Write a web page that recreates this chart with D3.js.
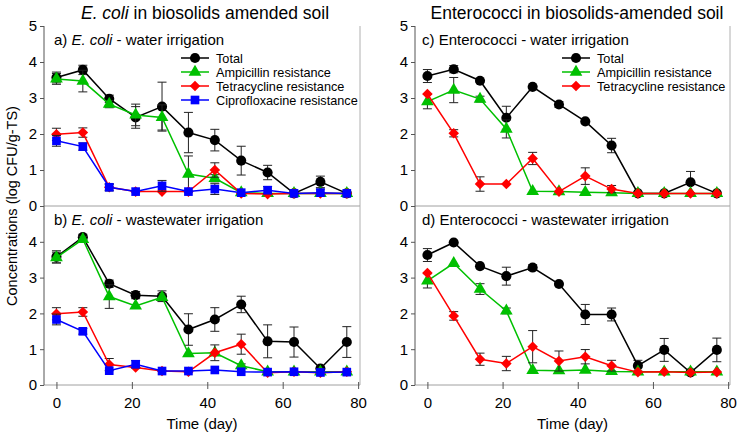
<!DOCTYPE html>
<html>
<head>
<meta charset="utf-8">
<script src="https://cdn.jsdelivr.net/npm/d3@7"></script>
<style>
  body { margin: 0; background: #fff; }
  svg { font-family: "Liberation Sans", Arial, sans-serif; }
</style>
</head>
<body>
<svg id="chart" width="738" height="437"></svg>
<script>
// sampling days
var days = [0, 7, 14, 21, 28, 35, 42, 49, 56, 63, 70, 77];
var yTicksTop = [0, 1, 2, 3, 4, 5];
var yTicksBottom = [0, 1, 2, 3, 4];
var xTicks = [0, 20, 40, 60, 80];

// a) E. coli - water irrigation
var ecWaterTotal = [3.57, 3.78, 2.98, 2.46, 2.76, 2.04, 1.83, 1.26, 0.93, 0.35, 0.67, 0.35];
var ecWaterTotalErr = [0.15, 0.13, 0.1, 0.3, 0.68, 0.56, 0.3, 0.4, 0.2, 0, 0.16, 0];
var ecWaterAmp = [3.53, 3.47, 2.83, 2.53, 2.46, 0.89, 0.77, 0.37, 0.35, 0.35, 0.35, 0.35];
var ecWaterAmpErr = [0.15, 0.3, 0.1, 0.3, 0.35, 0.5, 0.1, 0, 0, 0, 0, 0];
var ecWaterTet = [1.99, 2.04, 0.52, 0.4, 0.4, 0.4, 1.0, 0.35, 0.33, 0.35, 0.35, 0.35];
var ecWaterTetErr = [0.17, 0.13, 0.08, 0, 0, 0, 0.2, 0, 0, 0, 0, 0];
var ecWaterCip = [1.81, 1.65, 0.52, 0.4, 0.56, 0.4, 0.47, 0.37, 0.44, 0.35, 0.37, 0.35];
var ecWaterCipErr = [0.15, 0.1, 0.1, 0, 0.15, 0, 0.15, 0, 0.1, 0, 0.1, 0];

// b) E. coli - wastewater irrigation
var ecWasteTotal = [3.58, 4.13, 2.83, 2.51, 2.48, 1.55, 1.83, 2.25, 1.22, 1.2, 0.46, 1.2];
var ecWasteTotalErr = [0.17, 0.08, 0.1, 0.1, 0.15, 0.44, 0.33, 0.23, 0.46, 0.42, 0, 0.43];
var ecWasteAmp = [3.56, 4.07, 2.47, 2.21, 2.45, 0.88, 0.9, 0.54, 0.37, 0.37, 0.37, 0.37];
var ecWasteAmpErr = [0.15, 0.08, 0.33, 0, 0.1, 0, 0, 0.05, 0, 0, 0, 0];
var ecWasteTet = [1.99, 2.04, 0.57, 0.49, 0.39, 0.37, 0.9, 1.14, 0.34, 0.37, 0.34, 0.37];
var ecWasteTetErr = [0.17, 0.12, 0.17, 0, 0, 0, 0.22, 0.28, 0, 0, 0, 0];
var ecWasteCip = [1.83, 1.5, 0.4, 0.58, 0.39, 0.39, 0.42, 0.37, 0.36, 0.37, 0.35, 0.36];
var ecWasteCipErr = [0.15, 0.08, 0, 0.1, 0, 0, 0, 0, 0, 0, 0, 0];

// c) Enterococci - water irrigation
var entWaterTotal = [3.61, 3.8, 3.48, 2.45, 3.31, 2.82, 2.35, 1.68, 0.35, 0.35, 0.66, 0.35];
var entWaterTotalErr = [0.18, 0.1, 0, 0.32, 0, 0.08, 0, 0.2, 0, 0, 0.3, 0];
var entWaterAmp = [2.9, 3.22, 2.97, 2.14, 0.41, 0.4, 0.38, 0.37, 0.35, 0.35, 0.35, 0.35];
var entWaterAmpErr = [0.2, 0.35, 0.08, 0.25, 0, 0, 0, 0, 0, 0, 0, 0];
var entWaterTet = [3.11, 2.02, 0.61, 0.61, 1.32, 0.4, 0.83, 0.47, 0.35, 0.35, 0.35, 0.35];
var entWaterTetErr = [0, 0.1, 0.2, 0, 0.17, 0, 0.23, 0.1, 0, 0, 0, 0];

// d) Enterococci - wastewater irrigation
var entWasteTotal = [3.63, 3.98, 3.32, 3.04, 3.28, 2.82, 1.97, 1.97, 0.54, 0.98, 0.35, 0.98];
var entWasteTotalErr = [0.18, 0, 0, 0.25, 0.08, 0, 0.28, 0.18, 0.15, 0.32, 0, 0.33];
var entWasteAmp = [2.91, 3.4, 2.68, 2.07, 0.41, 0.4, 0.42, 0.38, 0.37, 0.37, 0.37, 0.37];
var entWasteAmpErr = [0.2, 0, 0.15, 0.08, 0, 0, 0, 0, 0, 0, 0, 0];
var entWasteTet = [3.13, 1.93, 0.72, 0.6, 1.07, 0.67, 0.79, 0.54, 0.36, 0.37, 0.35, 0.36];
var entWasteTetErr = [0, 0.12, 0.17, 0.2, 0.45, 0.28, 0.2, 0.15, 0, 0, 0, 0];

var seriesNames = ["Total", "Ampicillin resistance", "Tetracycline resistance", "Ciprofloxacine resistance"];
var seriesColors = ["#000000", "#00c000", "#ff0000", "#0000ff"];
var seriesShapes = [d3.symbolCircle, d3.symbolTriangle, d3.symbolSquare, d3.symbolSquare];
var seriesSizes = [80, 70, 56, 75];
var seriesRotate = [0, 0, 45, 0];

var svg = d3.select("#chart");

var panels = [
  { x0: 44, x1: 360, y0: 26, y1: 206, label: ["a) ", "E. coli", " - water irrigation"], legend: true, bottom: false,
    series: [[ecWaterTotal, ecWaterTotalErr], [ecWaterAmp, ecWaterAmpErr], [ecWaterTet, ecWaterTetErr], [ecWaterCip, ecWaterCipErr]] },
  { x0: 44, x1: 360, y0: 206, y1: 385, label: ["b) ", "E. coli", " - wastewater irrigation"], legend: false, bottom: true,
    series: [[ecWasteTotal, ecWasteTotalErr], [ecWasteAmp, ecWasteAmpErr], [ecWasteTet, ecWasteTetErr], [ecWasteCip, ecWasteCipErr]] },
  { x0: 415, x1: 730, y0: 26, y1: 206, label: ["c) Enterococci - water irrigation"], legend: true, bottom: false,
    series: [[entWaterTotal, entWaterTotalErr], [entWaterAmp, entWaterAmpErr], [entWaterTet, entWaterTetErr]] },
  { x0: 415, x1: 730, y0: 206, y1: 385, label: ["d) Enterococci - wastewater irrigation"], legend: false, bottom: true,
    series: [[entWasteTotal, entWasteTotalErr], [entWasteAmp, entWasteAmpErr], [entWasteTet, entWasteTetErr]] }
];

function marker(sel, si) {
  sel.attr("d", d3.symbol().type(seriesShapes[si]).size(seriesSizes[si]))
    .attr("fill", seriesColors[si]);
}

panels.forEach(function (p) {
  var x = d3.scaleLinear().domain([-3.3, 80.5]).range([p.x0, p.x1]);
  var y = d3.scaleLinear().domain([0, 5]).range([p.y1, p.y0]);
  var g = svg.append("g");

  // frame: right border and bottom axis in light grey
  g.append("line").attr("x1", p.x1).attr("x2", p.x1).attr("y1", p.y0).attr("y2", p.y1)
    .attr("stroke", "#b0b0b0").attr("stroke-width", 1);
  g.append("line").attr("x1", p.x0).attr("x2", p.x1).attr("y1", p.y1).attr("y2", p.y1)
    .attr("stroke", "#a0a0a0").attr("stroke-width", 1);

  // y axis
  var yAxis = g.append("g").attr("transform", "translate(" + p.x0 + ",0)")
    .call(d3.axisLeft(y).tickValues(p.bottom ? yTicksBottom : yTicksTop)
      .tickSize(4).tickSizeOuter(0).tickFormat(d3.format("d")));
  yAxis.select(".domain").attr("stroke", "#555").attr("d", "M0," + p.y0 + "V" + p.y1);
  yAxis.selectAll(".tick line").attr("stroke", "#555");
  yAxis.selectAll(".tick text").attr("font-size", 15).attr("fill", "#000")
    .attr("font-family", "Liberation Sans, Arial, sans-serif").attr("x", -7);

  if (p.bottom) {
    var xAxis = g.append("g").attr("transform", "translate(0," + p.y1 + ")")
      .call(d3.axisBottom(x).tickValues(xTicks).tickSize(4).tickSizeOuter(0));
    xAxis.select(".domain").remove();
    xAxis.selectAll(".tick line").attr("stroke", "#555").attr("y1", -3);
    xAxis.selectAll(".tick text").attr("font-size", 15).attr("fill", "#000")
      .attr("font-family", "Liberation Sans, Arial, sans-serif").attr("y", 12);
    g.append("text").attr("x", (p.x0 + p.x1) / 2).attr("y", 429)
      .attr("text-anchor", "middle").attr("font-size", 15).text("Time (day)");
  }

  // panel label
  var lab = g.append("text").attr("x", p.x0 + (p.x0 < 100 ? 10 : 7)).attr("y", p.y0 + 19).attr("font-size", 15);
  p.label.forEach(function (t, i) {
    lab.append("tspan").attr("font-style", (p.label.length > 1 && i === 1) ? "italic" : "normal").text(t);
  });

  // series
  p.series.forEach(function (s, si) {
    var vals = s[0], errs = s[1];
    var pts = days.map(function (d, i) { return { d: d, v: vals[i], e: errs[i] }; });
    var color = seriesColors[si];

    // error bars
    var eb = g.append("g").attr("stroke", "#222").attr("stroke-width", 1);
    pts.filter(function (pt) { return pt.e > 0; }).forEach(function (pt) {
      var cx = x(pt.d);
      eb.append("line").attr("x1", cx).attr("x2", cx).attr("y1", y(pt.v - pt.e)).attr("y2", y(pt.v + pt.e));
      eb.append("line").attr("x1", cx - 4.5).attr("x2", cx + 4.5).attr("y1", y(pt.v - pt.e)).attr("y2", y(pt.v - pt.e));
      eb.append("line").attr("x1", cx - 4.5).attr("x2", cx + 4.5).attr("y1", y(pt.v + pt.e)).attr("y2", y(pt.v + pt.e));
    });

    g.append("path").datum(pts)
      .attr("fill", "none").attr("stroke", color).attr("stroke-width", 1.5)
      .attr("d", d3.line().x(function (pt) { return x(pt.d); }).y(function (pt) { return y(pt.v); }));

    g.selectAll(".m" + si).data(pts).enter().append("path")
      .attr("class", "m" + si)
      .attr("transform", function (pt) {
        return "translate(" + x(pt.d) + "," + y(pt.v) + ") rotate(" + seriesRotate[si] + ")";
      })
      .call(marker, si);
  });

  // legend
  if (p.legend) {
    var lx = p.x0 + (p.x0 < 100 ? 137 : 147);
    p.series.forEach(function (s, si) {
      var ly = 58 + si * 14;
      g.append("line").attr("x1", lx).attr("x2", lx + 28).attr("y1", ly).attr("y2", ly)
        .attr("stroke", seriesColors[si]).attr("stroke-width", 1.5);
      g.append("path").attr("transform", "translate(" + (lx + 14) + "," + ly + ") rotate(" + seriesRotate[si] + ")")
        .call(marker, si);
      g.append("text").attr("x", lx + 35).attr("y", ly + 4.5).attr("font-size", 12.7).text(seriesNames[si]);
    });
  }
});

// column titles
var t1 = svg.append("text").attr("x", 205).attr("y", 19).attr("text-anchor", "middle").attr("font-size", 17.5);
t1.append("tspan").attr("font-style", "italic").text("E. coli");
t1.append("tspan").text(" in biosolids amended soil");
svg.append("text").attr("x", 577).attr("y", 19).attr("text-anchor", "middle").attr("font-size", 17.5)
  .text("Enterococci in biosolids-amended soil");

// shared y axis label
svg.append("text").attr("transform", "translate(17,206) rotate(-90)")
  .attr("text-anchor", "middle").attr("font-size", 14.5)
  .text("Concentrations (log CFU/g-TS)");
</script>
</body>
</html>
